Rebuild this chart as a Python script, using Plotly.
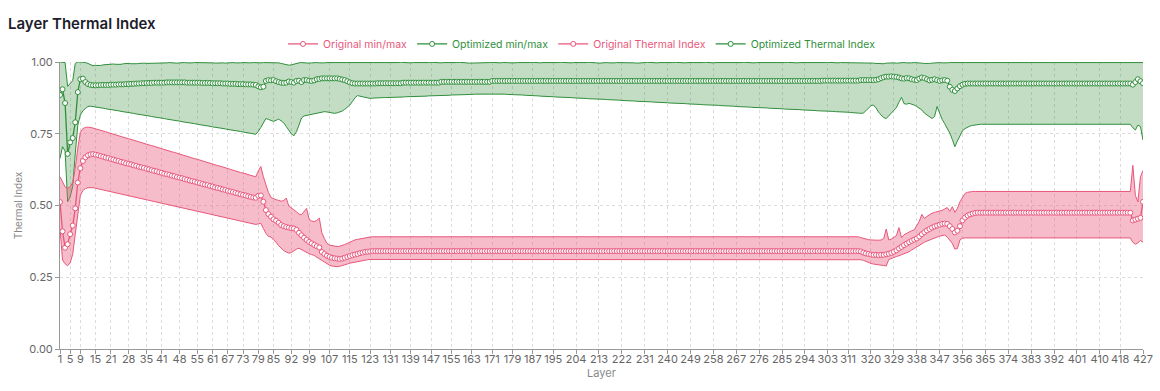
import plotly.graph_objects as go

# ---------------- data ----------------
layers = list(range(1, 428))

x_tick_labels = [1, 5, 9, 15, 21, 28, 35, 41, 48, 55, 61, 67, 73, 79, 85, 92, 99, 107, 115,
                 123, 131, 139, 147, 155, 163, 171, 179, 187, 195, 204, 213, 222, 231, 240,
                 249, 258, 267, 276, 285, 294, 303, 311, 320, 329, 338, 347, 356, 365, 374,
                 383, 392, 401, 410, 418, 427]
y_tick_values = [0.0, 0.25, 0.5, 0.75, 1.0]

orig_mean = [
    0.512, 0.410, 0.353, 0.365, 0.400, 0.430, 0.490, 0.580, 0.630, 0.655, 0.668, 0.675, 0.678, 0.679,
    0.677, 0.675, 0.672, 0.670, 0.667, 0.665, 0.662, 0.660, 0.657, 0.655,
    0.652, 0.650, 0.647, 0.645, 0.643, 0.640, 0.638, 0.635, 0.633, 0.631,
    0.628, 0.626, 0.623, 0.621, 0.619, 0.616, 0.614, 0.611, 0.609, 0.607,
    0.604, 0.602, 0.599, 0.597, 0.595, 0.592, 0.590, 0.587, 0.585, 0.583,
    0.580, 0.578, 0.575, 0.573, 0.571, 0.568, 0.566, 0.563, 0.561, 0.559,
    0.556, 0.554, 0.551, 0.549, 0.547, 0.544, 0.542, 0.539, 0.537, 0.535,
    0.532, 0.530, 0.528, 0.527,
    0.534, 0.535, 0.513, 0.484, 0.470, 0.461, 0.452, 0.447, 0.440, 0.432,
    0.428, 0.425, 0.423, 0.421, 0.420, 0.415, 0.405, 0.396, 0.388, 0.380,
    0.373, 0.368, 0.363, 0.358, 0.354, 0.338, 0.331, 0.325, 0.321, 0.318,
    0.316, 0.315, 0.314, 0.315, 0.318, 0.321, 0.324, 0.327, 0.329, 0.331,
    0.334, 0.336, 0.338, 0.339, 0.340, 0.341, 0.341,
    0.341, 0.341, 0.341, 0.341, 0.341, 0.341, 0.341, 0.341, 0.341, 0.341,
    0.341, 0.341, 0.341, 0.341, 0.341, 0.341, 0.341, 0.341, 0.341, 0.341,
    0.341, 0.341, 0.341, 0.341, 0.341, 0.341, 0.341, 0.341, 0.341, 0.341,
    0.341, 0.341, 0.341, 0.341, 0.341, 0.341, 0.341, 0.341, 0.341, 0.341,
    0.341, 0.341, 0.341, 0.341, 0.341, 0.341, 0.341, 0.341, 0.341, 0.341,
    0.341, 0.341, 0.341, 0.341, 0.341, 0.341, 0.341, 0.341, 0.341, 0.341,
    0.341, 0.341, 0.341, 0.341, 0.341, 0.341, 0.341, 0.341, 0.341, 0.341,
    0.341, 0.341, 0.341, 0.341, 0.341, 0.341, 0.341, 0.341, 0.341, 0.341,
    0.341, 0.341, 0.341, 0.341, 0.341, 0.341, 0.341, 0.341, 0.341, 0.341,
    0.341, 0.341, 0.341, 0.341, 0.341, 0.341, 0.341, 0.341, 0.341, 0.341,
    0.341, 0.341, 0.341, 0.341, 0.341, 0.341, 0.341, 0.341, 0.341, 0.341,
    0.341, 0.341, 0.341, 0.341, 0.341, 0.341, 0.341, 0.341, 0.341, 0.341,
    0.341, 0.341, 0.341, 0.341, 0.341, 0.341, 0.341, 0.341, 0.341, 0.341,
    0.341, 0.341, 0.341, 0.341, 0.341, 0.341, 0.341, 0.341, 0.341, 0.341,
    0.341, 0.341, 0.341, 0.341, 0.341, 0.341, 0.341, 0.341, 0.341, 0.341,
    0.341, 0.341, 0.341, 0.341, 0.341, 0.341, 0.341, 0.341, 0.341, 0.341,
    0.341, 0.341, 0.341, 0.341, 0.341, 0.341, 0.341, 0.341, 0.341, 0.341,
    0.341, 0.341, 0.341, 0.341, 0.341, 0.341, 0.341, 0.341, 0.341, 0.341,
    0.341, 0.341, 0.341, 0.341, 0.341, 0.341, 0.341, 0.341, 0.341, 0.341,
    0.340, 0.336, 0.333, 0.331, 0.329, 0.328, 0.328, 0.327, 0.328, 0.328,
    0.330, 0.332, 0.335, 0.339, 0.344, 0.350, 0.356, 0.362, 0.367, 0.372,
    0.377, 0.381, 0.385, 0.392, 0.400, 0.407, 0.413, 0.418, 0.423, 0.427,
    0.430, 0.433, 0.436, 0.437, 0.436, 0.428, 0.418, 0.406, 0.412, 0.428,
    0.448, 0.458, 0.465, 0.469, 0.472, 0.474, 0.475,
    0.475, 0.475, 0.475, 0.475, 0.475, 0.475, 0.475, 0.475, 0.475, 0.475,
    0.475, 0.475, 0.475, 0.475, 0.475, 0.475, 0.475, 0.475, 0.475, 0.475,
    0.475, 0.475, 0.475, 0.475, 0.475, 0.475, 0.475, 0.475, 0.475, 0.475,
    0.475, 0.475, 0.475, 0.475, 0.475, 0.475, 0.475, 0.475, 0.475, 0.475,
    0.475, 0.475, 0.475, 0.475, 0.475, 0.475, 0.475, 0.475, 0.475, 0.475,
    0.475, 0.475, 0.475, 0.475, 0.475, 0.475, 0.475, 0.475, 0.475, 0.475,
    0.448, 0.451, 0.454, 0.457, 0.513,
]

orig_max = [
    0.600, 0.580, 0.565, 0.560, 0.565, 0.580, 0.630, 0.700, 0.755, 0.768, 0.772, 0.773, 0.772, 0.770,
    0.767, 0.765, 0.762, 0.759, 0.757, 0.754, 0.751, 0.749, 0.746, 0.743,
    0.741, 0.738, 0.735, 0.733, 0.730, 0.727, 0.725, 0.722, 0.719, 0.717,
    0.714, 0.711, 0.709, 0.706, 0.703, 0.701, 0.698, 0.695, 0.693, 0.690,
    0.687, 0.685, 0.682, 0.679, 0.677, 0.674, 0.671, 0.669, 0.666, 0.663,
    0.661, 0.658, 0.655, 0.653, 0.650, 0.647, 0.645, 0.642, 0.639, 0.637,
    0.634, 0.631, 0.629, 0.626, 0.623, 0.621, 0.618, 0.615, 0.613, 0.610,
    0.607, 0.605, 0.602, 0.600,
    0.620, 0.636, 0.600, 0.570, 0.545, 0.528, 0.523, 0.520, 0.518, 0.515,
    0.517, 0.526, 0.498, 0.490, 0.485, 0.478, 0.470, 0.468, 0.478, 0.490,
    0.452, 0.446, 0.444, 0.448, 0.456, 0.405, 0.385, 0.368, 0.362, 0.360,
    0.358, 0.357, 0.358, 0.360, 0.364, 0.368, 0.373, 0.377, 0.380, 0.382,
    0.384, 0.386, 0.388, 0.389, 0.390, 0.391, 0.391,
    0.391, 0.391, 0.391, 0.391, 0.391, 0.391, 0.391, 0.391, 0.391, 0.391,
    0.391, 0.391, 0.391, 0.391, 0.391, 0.391, 0.391, 0.391, 0.391, 0.391,
    0.391, 0.391, 0.391, 0.391, 0.391, 0.391, 0.391, 0.391, 0.391, 0.391,
    0.391, 0.391, 0.391, 0.391, 0.391, 0.391, 0.391, 0.391, 0.391, 0.391,
    0.391, 0.391, 0.391, 0.391, 0.391, 0.391, 0.391, 0.391, 0.391, 0.391,
    0.391, 0.391, 0.391, 0.391, 0.391, 0.391, 0.391, 0.391, 0.391, 0.391,
    0.391, 0.391, 0.391, 0.391, 0.391, 0.391, 0.391, 0.391, 0.391, 0.391,
    0.391, 0.391, 0.391, 0.391, 0.391, 0.391, 0.391, 0.391, 0.391, 0.391,
    0.391, 0.391, 0.391, 0.391, 0.391, 0.391, 0.391, 0.391, 0.391, 0.391,
    0.391, 0.391, 0.391, 0.391, 0.391, 0.391, 0.391, 0.391, 0.391, 0.391,
    0.391, 0.391, 0.391, 0.391, 0.391, 0.391, 0.391, 0.391, 0.391, 0.391,
    0.391, 0.391, 0.391, 0.391, 0.391, 0.391, 0.391, 0.391, 0.391, 0.391,
    0.391, 0.391, 0.391, 0.391, 0.391, 0.391, 0.391, 0.391, 0.391, 0.391,
    0.391, 0.391, 0.391, 0.391, 0.391, 0.391, 0.391, 0.391, 0.391, 0.391,
    0.391, 0.391, 0.391, 0.391, 0.391, 0.391, 0.391, 0.391, 0.391, 0.391,
    0.391, 0.391, 0.391, 0.391, 0.391, 0.391, 0.391, 0.391, 0.391, 0.391,
    0.391, 0.391, 0.391, 0.391, 0.391, 0.391, 0.391, 0.391, 0.391, 0.391,
    0.391, 0.391, 0.391, 0.391, 0.391, 0.391, 0.391, 0.391, 0.391, 0.391,
    0.391, 0.391, 0.391, 0.391, 0.391, 0.391, 0.391, 0.391, 0.391, 0.391,
    0.388, 0.385, 0.383, 0.381, 0.380, 0.379, 0.379, 0.379, 0.380, 0.385,
    0.418, 0.380, 0.383, 0.390, 0.395, 0.423, 0.388, 0.398, 0.403, 0.408,
    0.412, 0.415, 0.430, 0.445, 0.469, 0.455, 0.462, 0.469, 0.473, 0.476,
    0.478, 0.480, 0.483, 0.488, 0.493, 0.480, 0.496, 0.476, 0.490, 0.513,
    0.530, 0.542, 0.546, 0.548, 0.549, 0.549, 0.549,
    0.549, 0.549, 0.549, 0.549, 0.549, 0.549, 0.549, 0.549, 0.549, 0.549,
    0.549, 0.549, 0.549, 0.549, 0.549, 0.549, 0.549, 0.549, 0.549, 0.549,
    0.549, 0.549, 0.549, 0.549, 0.549, 0.549, 0.549, 0.549, 0.549, 0.549,
    0.549, 0.549, 0.549, 0.549, 0.549, 0.549, 0.549, 0.549, 0.549, 0.549,
    0.549, 0.549, 0.549, 0.549, 0.549, 0.549, 0.549, 0.549, 0.549, 0.549,
    0.549, 0.549, 0.549, 0.549, 0.549, 0.549, 0.549, 0.549, 0.549, 0.549,
    0.640, 0.535, 0.513, 0.600, 0.622,
]

orig_min = [
    0.420, 0.310, 0.297, 0.290, 0.300, 0.330, 0.400, 0.470, 0.535, 0.552, 0.559, 0.562, 0.563, 0.562,
    0.560, 0.558, 0.556, 0.554, 0.552, 0.550, 0.548, 0.546, 0.544, 0.542,
    0.540, 0.538, 0.536, 0.534, 0.532, 0.530, 0.528, 0.526, 0.524, 0.522,
    0.520, 0.518, 0.516, 0.514, 0.512, 0.510, 0.508, 0.506, 0.504, 0.502,
    0.500, 0.498, 0.496, 0.494, 0.492, 0.490, 0.488, 0.486, 0.484, 0.482,
    0.480, 0.478, 0.476, 0.474, 0.472, 0.470, 0.468, 0.466, 0.464, 0.462,
    0.460, 0.458, 0.456, 0.454, 0.452, 0.450, 0.448, 0.446, 0.444, 0.442,
    0.440, 0.438, 0.436, 0.434,
    0.436, 0.438, 0.420, 0.403, 0.392, 0.390, 0.380, 0.372, 0.360, 0.350,
    0.343, 0.338, 0.334, 0.336, 0.343, 0.348, 0.351, 0.346, 0.340, 0.336,
    0.332, 0.329, 0.326, 0.320, 0.314, 0.309, 0.302, 0.296, 0.292, 0.289,
    0.287, 0.287, 0.288, 0.290, 0.293, 0.296, 0.299, 0.301, 0.303, 0.305,
    0.307, 0.309, 0.310, 0.311, 0.312, 0.312, 0.312,
    0.312, 0.312, 0.312, 0.312, 0.312, 0.312, 0.312, 0.312, 0.312, 0.312,
    0.312, 0.312, 0.312, 0.312, 0.312, 0.312, 0.312, 0.312, 0.312, 0.312,
    0.312, 0.312, 0.312, 0.312, 0.312, 0.312, 0.312, 0.312, 0.312, 0.312,
    0.312, 0.312, 0.312, 0.312, 0.312, 0.312, 0.312, 0.312, 0.312, 0.312,
    0.312, 0.312, 0.312, 0.312, 0.312, 0.312, 0.312, 0.312, 0.312, 0.312,
    0.312, 0.312, 0.312, 0.312, 0.312, 0.312, 0.312, 0.312, 0.312, 0.312,
    0.312, 0.312, 0.312, 0.312, 0.312, 0.312, 0.312, 0.312, 0.312, 0.312,
    0.312, 0.312, 0.312, 0.312, 0.312, 0.312, 0.312, 0.312, 0.312, 0.312,
    0.312, 0.312, 0.312, 0.312, 0.312, 0.312, 0.312, 0.312, 0.312, 0.312,
    0.312, 0.312, 0.312, 0.312, 0.312, 0.312, 0.312, 0.312, 0.312, 0.312,
    0.312, 0.312, 0.312, 0.312, 0.312, 0.312, 0.312, 0.312, 0.312, 0.312,
    0.312, 0.312, 0.312, 0.312, 0.312, 0.312, 0.312, 0.312, 0.312, 0.312,
    0.312, 0.312, 0.312, 0.312, 0.312, 0.312, 0.312, 0.312, 0.312, 0.312,
    0.312, 0.312, 0.312, 0.312, 0.312, 0.312, 0.312, 0.312, 0.312, 0.312,
    0.312, 0.312, 0.312, 0.312, 0.312, 0.312, 0.312, 0.312, 0.312, 0.312,
    0.312, 0.312, 0.312, 0.312, 0.312, 0.312, 0.312, 0.312, 0.312, 0.312,
    0.312, 0.312, 0.312, 0.312, 0.312, 0.312, 0.312, 0.312, 0.312, 0.312,
    0.312, 0.312, 0.312, 0.312, 0.312, 0.312, 0.312, 0.312, 0.312, 0.312,
    0.312, 0.312, 0.312, 0.312, 0.312, 0.312, 0.312, 0.312, 0.312, 0.312,
    0.311, 0.309, 0.305, 0.301, 0.298, 0.296, 0.294, 0.293, 0.292, 0.291,
    0.289, 0.312, 0.316, 0.320, 0.322, 0.325, 0.328, 0.331, 0.335, 0.339,
    0.345, 0.351, 0.356, 0.362, 0.367, 0.372, 0.376, 0.380, 0.384, 0.387,
    0.390, 0.393, 0.396, 0.397, 0.390, 0.380, 0.368, 0.348, 0.350, 0.380,
    0.386, 0.387, 0.387, 0.387, 0.387, 0.387, 0.387,
    0.387, 0.387, 0.387, 0.387, 0.387, 0.387, 0.387, 0.387, 0.387, 0.387,
    0.387, 0.387, 0.387, 0.387, 0.387, 0.387, 0.387, 0.387, 0.387, 0.387,
    0.387, 0.387, 0.387, 0.387, 0.387, 0.387, 0.387, 0.387, 0.387, 0.387,
    0.387, 0.387, 0.387, 0.387, 0.387, 0.387, 0.387, 0.387, 0.387, 0.387,
    0.387, 0.387, 0.387, 0.387, 0.387, 0.387, 0.387, 0.387, 0.387, 0.387,
    0.387, 0.387, 0.387, 0.387, 0.387, 0.387, 0.387, 0.387, 0.387, 0.387,
    0.372, 0.365, 0.370, 0.378, 0.372,
]

opt_mean = [
    0.885, 0.905, 0.857, 0.680, 0.720, 0.735, 0.790, 0.895, 0.940, 0.942, 0.930, 0.923, 0.920, 0.919,
    0.919, 0.919, 0.920, 0.920, 0.920, 0.920, 0.921, 0.921, 0.921, 0.922,
    0.922, 0.922, 0.923, 0.923, 0.924, 0.924, 0.925, 0.925, 0.926, 0.926,
    0.927, 0.927, 0.927, 0.928, 0.928, 0.928, 0.928, 0.928, 0.929, 0.929,
    0.929, 0.929, 0.929, 0.929, 0.929, 0.929, 0.928, 0.928, 0.928, 0.928,
    0.928, 0.928, 0.927, 0.927, 0.927, 0.927, 0.926, 0.926, 0.926, 0.926,
    0.925, 0.925, 0.925, 0.924, 0.924, 0.924, 0.923, 0.923, 0.923, 0.922,
    0.922, 0.922, 0.921, 0.920,
    0.915, 0.912, 0.914, 0.934, 0.937, 0.936, 0.937, 0.933, 0.930, 0.928,
    0.927, 0.928, 0.932, 0.930, 0.928, 0.934, 0.935, 0.930, 0.937, 0.937,
    0.935, 0.934, 0.936, 0.940, 0.941, 0.943, 0.943, 0.943, 0.943, 0.943,
    0.943, 0.943, 0.941, 0.939, 0.937, 0.933, 0.929, 0.926, 0.925, 0.925,
    0.925, 0.925, 0.925, 0.925, 0.925, 0.925, 0.925,
    0.926, 0.926, 0.926, 0.926, 0.926, 0.926, 0.926, 0.926, 0.926, 0.926,
    0.928, 0.928, 0.928, 0.928, 0.928, 0.928, 0.928, 0.928, 0.928, 0.928,
    0.928, 0.928, 0.928, 0.928, 0.928, 0.931, 0.931, 0.931, 0.931, 0.931,
    0.931, 0.931, 0.931, 0.931, 0.931, 0.931, 0.931, 0.931, 0.931, 0.931,
    0.931, 0.931, 0.931, 0.931, 0.931, 0.934, 0.934, 0.934, 0.934, 0.934,
    0.934, 0.934, 0.934, 0.934, 0.934, 0.934, 0.934, 0.934, 0.934, 0.934,
    0.934, 0.934, 0.934, 0.934, 0.934, 0.934, 0.934, 0.934, 0.934, 0.934,
    0.934, 0.934, 0.934, 0.934, 0.934, 0.934, 0.934, 0.934, 0.934, 0.934,
    0.934, 0.934, 0.934, 0.934, 0.934, 0.934, 0.934, 0.934, 0.934, 0.934,
    0.934, 0.934, 0.934, 0.934, 0.934, 0.934, 0.934, 0.934, 0.934, 0.934,
    0.934, 0.934, 0.934, 0.934, 0.934, 0.934, 0.934, 0.934, 0.934, 0.934,
    0.934, 0.934, 0.934, 0.934, 0.934, 0.934, 0.934, 0.934, 0.934, 0.934,
    0.934, 0.934, 0.934, 0.934, 0.934, 0.934, 0.934, 0.934, 0.934, 0.934,
    0.934, 0.934, 0.934, 0.934, 0.934, 0.934, 0.934, 0.934, 0.934, 0.934,
    0.934, 0.934, 0.934, 0.934, 0.934, 0.934, 0.934, 0.934, 0.934, 0.934,
    0.934, 0.934, 0.934, 0.934, 0.934, 0.934, 0.934, 0.934, 0.934, 0.934,
    0.934, 0.934, 0.934, 0.934, 0.934, 0.934, 0.934, 0.934, 0.934, 0.934,
    0.934, 0.934, 0.934, 0.934, 0.934, 0.935, 0.935, 0.935, 0.935, 0.935,
    0.935, 0.935, 0.935, 0.935, 0.935, 0.935, 0.935, 0.935, 0.935, 0.935,
    0.937, 0.937, 0.937, 0.937, 0.937, 0.937, 0.938, 0.940, 0.944, 0.947,
    0.949, 0.949, 0.950, 0.949, 0.948, 0.946, 0.943, 0.942, 0.944, 0.943,
    0.940, 0.938, 0.937, 0.942, 0.946, 0.944, 0.940, 0.936, 0.938, 0.940,
    0.937, 0.934, 0.936, 0.937, 0.935, 0.914, 0.903, 0.899, 0.908, 0.916,
    0.921, 0.924, 0.925, 0.925, 0.925, 0.925, 0.925,
    0.925, 0.925, 0.925, 0.925, 0.925, 0.925, 0.925, 0.925, 0.925, 0.925,
    0.925, 0.925, 0.925, 0.925, 0.925, 0.925, 0.925, 0.925, 0.925, 0.925,
    0.925, 0.925, 0.925, 0.925, 0.925, 0.925, 0.925, 0.925, 0.925, 0.925,
    0.925, 0.925, 0.925, 0.925, 0.925, 0.925, 0.925, 0.925, 0.925, 0.925,
    0.925, 0.925, 0.925, 0.925, 0.925, 0.925, 0.925, 0.925, 0.925, 0.925,
    0.925, 0.925, 0.925, 0.925, 0.925, 0.925, 0.925, 0.925, 0.925, 0.925,
    0.921, 0.930, 0.940, 0.933, 0.926,
]

opt_max = [
    1.000, 1.000, 0.998, 0.915, 0.925, 0.935, 0.995, 1.000, 1.000, 1.000, 0.998, 0.995, 0.990, 0.987,
    0.988, 0.987, 0.988, 0.990, 0.991, 0.992, 0.993, 0.993, 0.992, 0.991,
    0.992, 0.994, 0.995, 0.995, 0.994, 0.993, 0.994, 0.995, 0.996, 0.996,
    0.995, 0.995, 0.996, 0.997, 0.997, 0.996, 0.995, 0.996, 0.997, 0.998,
    0.997, 0.996, 0.996, 0.997, 0.998, 0.998, 0.997, 0.996, 0.997, 0.998,
    0.998, 0.997, 0.997, 0.998, 0.999, 0.998, 0.997, 0.996, 0.997, 0.998,
    0.997, 0.996, 0.997, 0.998, 0.998, 0.997, 0.996, 0.997, 0.998, 0.997,
    0.996, 0.997, 0.998, 0.997,
    0.996, 0.997, 0.998, 0.998, 0.997, 0.996, 0.997, 0.998, 0.997, 0.995,
    0.993, 0.991, 0.989, 0.990, 0.993, 0.995, 0.997, 0.998, 0.997, 0.996,
    0.996, 0.997, 0.998, 0.998, 0.997, 0.996, 0.997, 0.998, 0.998, 0.997,
    0.996, 0.997, 0.998, 0.998, 0.997, 0.996, 0.996, 0.997, 0.998, 0.998,
    0.997, 0.996, 0.997, 0.998, 0.998, 0.997, 0.996,
    0.996, 0.997, 0.998, 0.998, 0.997, 0.996, 0.996, 0.997, 0.998, 0.999,
    0.998, 0.997, 0.996, 0.997, 0.998, 0.998, 0.997, 0.996, 0.996, 0.997,
    0.998, 0.999, 0.998, 0.997, 0.996, 0.997, 0.998, 0.998, 0.997, 0.996,
    0.997, 0.998, 0.999, 0.999, 0.998, 0.997, 0.996, 0.996, 0.997, 0.998,
    0.998, 0.997, 0.996, 0.997, 0.998, 0.999, 0.998, 0.997, 0.997, 0.998,
    0.999, 0.998, 0.997, 0.996, 0.997, 0.998, 0.998, 0.997, 0.996, 0.997,
    0.998, 0.999, 0.998, 0.997, 0.997, 0.998, 0.998, 0.997, 0.996, 0.996,
    0.997, 0.998, 0.999, 0.998, 0.997, 0.996, 0.997, 0.998, 0.998, 0.997,
    0.996, 0.997, 0.998, 0.999, 0.999, 0.998, 0.997, 0.996, 0.997, 0.998,
    0.998, 0.997, 0.996, 0.997, 0.998, 0.998, 0.997, 0.997, 0.998, 0.999,
    0.998, 0.997, 0.996, 0.996, 0.997, 0.998, 0.999, 0.998, 0.997, 0.996,
    0.997, 0.998, 0.998, 0.997, 0.996, 0.997, 0.998, 0.999, 0.998, 0.997,
    0.996, 0.997, 0.998, 0.998, 0.997, 0.996, 0.996, 0.997, 0.998, 0.999,
    0.998, 0.997, 0.997, 0.998, 0.998, 0.997, 0.996, 0.997, 0.998, 0.998,
    0.997, 0.996, 0.997, 0.998, 0.999, 0.998, 0.997, 0.996, 0.997, 0.998,
    0.998, 0.997, 0.996, 0.996, 0.997, 0.998, 0.998, 0.997, 0.996, 0.997,
    0.998, 0.999, 0.998, 0.997, 0.996, 0.997, 0.998, 0.998, 0.997, 0.996,
    0.997, 0.998, 0.998, 0.997, 0.996, 0.997, 0.998, 0.999, 0.998, 0.997,
    0.996, 0.997, 0.998, 0.998, 0.997, 0.996, 0.997, 0.998, 0.998, 0.997,
    0.997, 0.997, 0.998, 0.998, 0.997, 0.996, 0.995, 0.994, 0.993, 0.994,
    0.996, 0.997, 0.998, 0.997, 0.996, 0.997, 0.998, 0.998, 0.997, 0.996,
    0.997, 0.998, 0.998, 0.997, 0.996, 0.995, 0.994, 0.995, 0.996, 0.997,
    0.998, 0.998, 0.997, 0.996, 0.997, 0.998, 0.998, 0.998, 0.998, 0.998,
    0.998, 0.998, 0.998, 0.998, 0.998, 0.998, 0.998,
    0.998, 0.998, 0.998, 0.998, 0.998, 0.998, 0.998, 0.998, 0.998, 0.998,
    0.998, 0.998, 0.998, 0.998, 0.998, 0.998, 0.998, 0.998, 0.998, 0.998,
    0.998, 0.998, 0.998, 0.998, 0.998, 0.998, 0.998, 0.998, 0.998, 0.998,
    0.998, 0.998, 0.998, 0.998, 0.998, 0.998, 0.998, 0.998, 0.998, 0.998,
    0.998, 0.998, 0.998, 0.998, 0.998, 0.998, 0.998, 0.998, 0.998, 0.998,
    0.998, 0.998, 0.998, 0.998, 0.998, 0.998, 0.998, 0.998, 0.998, 0.998,
    0.998, 0.998, 0.998, 0.998, 0.998,
]

opt_min = [
    0.664, 0.705, 0.690, 0.513, 0.530, 0.566, 0.680, 0.780, 0.815, 0.830, 0.838, 0.845, 0.846, 0.845,
    0.843, 0.842, 0.840, 0.839, 0.837, 0.836, 0.834, 0.833, 0.831, 0.830,
    0.828, 0.827, 0.825, 0.824, 0.822, 0.821, 0.819, 0.818, 0.816, 0.815,
    0.813, 0.812, 0.810, 0.809, 0.807, 0.806, 0.804, 0.803, 0.801, 0.800,
    0.798, 0.797, 0.795, 0.794, 0.792, 0.791, 0.789, 0.788, 0.786, 0.785,
    0.783, 0.782, 0.780, 0.779, 0.777, 0.776, 0.774, 0.773, 0.771, 0.770,
    0.768, 0.767, 0.765, 0.764, 0.762, 0.761, 0.759, 0.758, 0.756, 0.755,
    0.753, 0.752, 0.750, 0.748,
    0.758, 0.772, 0.786, 0.803, 0.800, 0.796, 0.793, 0.797, 0.801, 0.795,
    0.788, 0.775, 0.763, 0.750, 0.743, 0.757, 0.780, 0.805, 0.812, 0.814,
    0.815, 0.817, 0.819, 0.820, 0.823, 0.825, 0.827, 0.826, 0.824, 0.822,
    0.821, 0.823, 0.826, 0.829, 0.835, 0.842, 0.850, 0.862, 0.875, 0.883,
    0.881, 0.878, 0.876, 0.874, 0.873, 0.874, 0.875,
    0.875, 0.875, 0.876, 0.876, 0.876, 0.877, 0.877, 0.877, 0.878, 0.878,
    0.878, 0.879, 0.879, 0.879, 0.880, 0.880, 0.880, 0.881, 0.881, 0.881,
    0.882, 0.882, 0.882, 0.883, 0.883, 0.883, 0.884, 0.884, 0.884, 0.885,
    0.885, 0.885, 0.886, 0.886, 0.886, 0.887, 0.887, 0.887, 0.888, 0.888,
    0.888, 0.889, 0.889, 0.889, 0.890, 0.890, 0.890, 0.889, 0.889, 0.888,
    0.888, 0.887, 0.887, 0.886, 0.886, 0.885, 0.885, 0.885, 0.884, 0.884,
    0.883, 0.883, 0.882, 0.882, 0.881, 0.881, 0.880, 0.880, 0.879, 0.879,
    0.878, 0.878, 0.878, 0.877, 0.877, 0.876, 0.876, 0.875, 0.875, 0.874,
    0.874, 0.873, 0.873, 0.872, 0.872, 0.871, 0.871, 0.870, 0.870, 0.870,
    0.869, 0.869, 0.868, 0.868, 0.867, 0.867, 0.866, 0.866, 0.865, 0.865,
    0.864, 0.864, 0.863, 0.863, 0.863, 0.862, 0.862, 0.861, 0.861, 0.860,
    0.860, 0.859, 0.859, 0.858, 0.858, 0.857, 0.857, 0.856, 0.856, 0.856,
    0.855, 0.855, 0.854, 0.854, 0.853, 0.853, 0.852, 0.852, 0.851, 0.851,
    0.850, 0.850, 0.849, 0.849, 0.849, 0.848, 0.848, 0.847, 0.847, 0.846,
    0.846, 0.845, 0.845, 0.844, 0.844, 0.843, 0.843, 0.842, 0.842, 0.842,
    0.841, 0.841, 0.840, 0.840, 0.839, 0.839, 0.838, 0.838, 0.837, 0.837,
    0.836, 0.836, 0.835, 0.835, 0.835, 0.834, 0.834, 0.833, 0.833, 0.832,
    0.832, 0.831, 0.831, 0.830, 0.830, 0.829, 0.829, 0.828, 0.828, 0.828,
    0.827, 0.827, 0.826, 0.826, 0.825, 0.825, 0.824, 0.824, 0.823, 0.822,
    0.821, 0.822, 0.830, 0.840, 0.848, 0.850, 0.840, 0.825, 0.815, 0.806,
    0.803, 0.812, 0.822, 0.832, 0.841, 0.860, 0.877, 0.855, 0.853, 0.856,
    0.854, 0.850, 0.845, 0.838, 0.833, 0.822, 0.815, 0.808, 0.803, 0.810,
    0.845, 0.822, 0.800, 0.785, 0.770, 0.752, 0.730, 0.705, 0.725, 0.745,
    0.760, 0.768, 0.773, 0.777, 0.779, 0.781, 0.782,
    0.783, 0.783, 0.783, 0.783, 0.783, 0.783, 0.783, 0.783, 0.783, 0.783,
    0.783, 0.783, 0.783, 0.783, 0.783, 0.783, 0.783, 0.783, 0.783, 0.783,
    0.783, 0.783, 0.783, 0.783, 0.783, 0.783, 0.783, 0.783, 0.783, 0.783,
    0.783, 0.783, 0.783, 0.783, 0.783, 0.783, 0.783, 0.783, 0.783, 0.783,
    0.783, 0.783, 0.783, 0.783, 0.783, 0.783, 0.783, 0.783, 0.783, 0.783,
    0.783, 0.783, 0.783, 0.783, 0.783, 0.783, 0.783, 0.783, 0.783, 0.783,
    0.771, 0.763, 0.780, 0.775, 0.728,
]

series_lengths = {name: len(v) for name, v in [("orig_mean", orig_mean), ("orig_max", orig_max),
                  ("orig_min", orig_min), ("opt_mean", opt_mean), ("opt_max", opt_max), ("opt_min", opt_min)]}
assert all(n == len(layers) for n in series_lengths.values()), series_lengths

# ---------------- styling ----------------
PINK = "#e8577a"
PINK_FILL = "rgba(232,87,122,0.40)"
GREEN = "#2f8f3b"
GREEN_FILL = "rgba(56,142,60,0.30)"

fig = go.Figure()

# optimized band
fig.add_trace(go.Scatter(x=layers, y=opt_min, mode="lines", line=dict(color=GREEN, width=1),
                         showlegend=False, hoverinfo="skip"))
fig.add_trace(go.Scatter(x=layers, y=opt_max, mode="lines", line=dict(color=GREEN, width=1),
                         fill="tonexty", fillcolor=GREEN_FILL, showlegend=False, hoverinfo="skip"))
# original band
fig.add_trace(go.Scatter(x=layers, y=orig_min, mode="lines", line=dict(color=PINK, width=1),
                         showlegend=False, hoverinfo="skip"))
fig.add_trace(go.Scatter(x=layers, y=orig_max, mode="lines", line=dict(color=PINK, width=1),
                         fill="tonexty", fillcolor=PINK_FILL, showlegend=False, hoverinfo="skip"))
# mean lines
fig.add_trace(go.Scatter(x=layers, y=orig_mean, mode="lines+markers",
                         line=dict(color=PINK, width=1.3),
                         marker=dict(size=5, color="white", line=dict(color=PINK, width=1)),
                         showlegend=False))
fig.add_trace(go.Scatter(x=layers, y=opt_mean, mode="lines+markers",
                         line=dict(color=GREEN, width=1.3),
                         marker=dict(size=5, color="white", line=dict(color=GREEN, width=1)),
                         showlegend=False))

# legend entries
legend_items = [("Original min/max", PINK), ("Optimized min/max", GREEN),
                ("Original Thermal Index", PINK), ("Optimized Thermal Index", GREEN)]
for label, col in legend_items:
    fig.add_trace(go.Scatter(x=[None], y=[None], mode="lines+markers",
                             line=dict(color=col, width=1.3),
                             marker=dict(size=5, color="white", line=dict(color=col, width=1)),
                             name=f"<span style='color:{col}'>{label}</span>", showlegend=True))

fig.update_layout(
    width=1160, height=391,
    margin=dict(l=60, r=17, t=62, b=42, autoexpand=False),
    paper_bgcolor="white", plot_bgcolor="white",
    font=dict(family="Inter, 'Noto Sans', sans-serif", size=11, color="#666666"),
    title=dict(text="Layer Thermal Index", x=8 / 1160, xanchor="left", y=1 - 24 / 391, yanchor="middle",
               font=dict(size=15, color="#1d1d2b", weight=600)),
    legend=dict(orientation="h", x=0.482, xanchor="center", y=1.063, yanchor="middle",
                font=dict(size=10.5), itemwidth=30, bgcolor="rgba(0,0,0,0)", traceorder="normal"),
    hovermode=False,
)
fig.update_xaxes(
    range=[1, 427], tickmode="array", tickvals=x_tick_labels, ticktext=[str(t) for t in x_tick_labels],
    tickangle=0, automargin=False, ticklabelstandoff=-4,
    showgrid=True, gridcolor="#dcdcdc", griddash="3px,3px", gridwidth=1,
    showline=True, linecolor="#999999", linewidth=1, ticks="outside", ticklen=4, tickcolor="#999999",
    zeroline=False, tickfont=dict(size=11, color="#666666"),
    title=dict(text="Layer", font=dict(size=11, color="#888888"), standoff=0),
)
fig.update_yaxes(
    range=[0, 1], tickmode="array", tickvals=y_tick_values, ticktext=[f"{v:.2f}" for v in y_tick_values],
    automargin=False,
    showgrid=True, gridcolor="#dcdcdc", griddash="3px,3px", gridwidth=1,
    showline=True, linecolor="#999999", linewidth=1, ticks="outside", ticklen=4, tickcolor="#999999",
    zeroline=False, tickfont=dict(size=11, color="#666666"),
    title=dict(text="Thermal Index", font=dict(size=10, color="#888888"), standoff=4),
)

fig.write_html("out.html", config={"displayModeBar": False},
               post_script="document.body.style.margin='0';document.body.style.overflow='hidden';")
